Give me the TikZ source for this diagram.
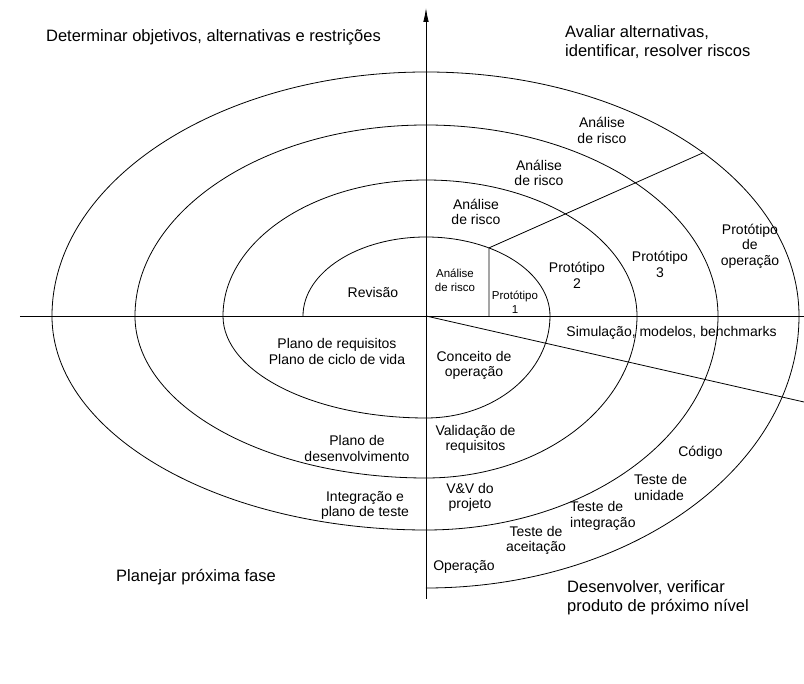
\documentclass[tikz,border=0pt]{standalone}
\usepackage{fontspec}
\setmainfont{Liberation Sans}
\usetikzlibrary{arrows.meta}

\begin{document}
\begin{tikzpicture}[x=1pt, y=1pt,
    linha/.style={black, line width=0.8pt},
    grande/.style={font=\fontsize{16.5}{19}\selectfont, inner sep=0pt, align=left},
    medio/.style={font=\fontsize{14}{15.5}\selectfont, inner sep=0pt, align=center},
    pequeno/.style={font=\fontsize{11.5}{14}\selectfont, inner sep=0pt, align=center}]
    \useasboundingbox (-426,-368) rectangle (378,316);

    % Eixos
    \coordinate (o) at (0,0);
    \draw[linha, -{Latex[length=14pt, width=5.5pt]}] (0,-283) -- (0,308);
    \draw[linha] (-406,0) -- (378,0);

    % Espiral
    \draw[linha] (-123,0)
        arc[start angle=180, end angle=90, x radius=123, y radius=79]
        arc[start angle=90, end angle=0, x radius=124, y radius=79]
        arc[start angle=0, end angle=-90, x radius=124, y radius=102]
        arc[start angle=270, end angle=180, x radius=203, y radius=102]
        arc[start angle=180, end angle=90, x radius=203, y radius=136]
        arc[start angle=90, end angle=0, x radius=211, y radius=136]
        arc[start angle=0, end angle=-90, x radius=211, y radius=162]
        arc[start angle=270, end angle=180, x radius=291, y radius=162]
        arc[start angle=180, end angle=90, x radius=291, y radius=191]
        arc[start angle=90, end angle=0, x radius=292, y radius=191]
        arc[start angle=0, end angle=-90, x radius=292, y radius=214]
        arc[start angle=270, end angle=180, x radius=374, y radius=214]
        arc[start angle=180, end angle=90, x radius=374, y radius=244]
        arc[start angle=90, end angle=0, x radius=373, y radius=244]
        arc[start angle=0, end angle=-90, x radius=373, y radius=272];

    % Linhas radiais
    \coordinate (p1) at (59.5:124 and 79);
    \coordinate (p2) at (42:373 and 244);
    \coordinate (fim) at (378,-86);
    \draw[linha] (p1 |- o) -- (p1) -- (p2);
    \draw[linha] (o) -- (fim);

    % Quadrantes
    \node[grande, align=center] (objetivos) at (-212.5,279) {Determinar objetivos, alternativas e restrições};
    \node[grande, anchor=west] (avaliar) at (139,273.5) {Avaliar alternativas,\\identificar, resolver riscos};
    \node[grande] (planejar) at (-230,-261) {Planejar próxima fase};
    \node[grande, anchor=west] (desenvolver) at (141,-282) {Desenvolver, verificar\\produto de próximo nível};

    % Análise de risco e protótipos
    \node[medio] (risco4) at (176,185.5) {Análise\\de risco};
    \node[medio] (risco3) at (113,143) {Análise\\de risco};
    \node[medio] (risco2) at (50,104) {Análise\\de risco};
    \node[pequeno] (risco1) at (29,36) {Análise\\de risco};
    \node[pequeno] (prot1) at (89,13.5) {Protótipo\\1};
    \node[medio] (prot2) at (151,40.5) {Protótipo\\2};
    \node[medio] (prot3) at (234,51.5) {Protótipo\\3};
    \node[medio] (protop) at (324,70) {Protótipo\\de\\operação};
    \node[medio] (revisao) at (-53,23) {Revisão};

    % Planos
    \node[medio] (planoreq) at (-89,-35.5) {Plano de requisitos\\Plano de ciclo de vida};
    \node[medio] (planodes) at (-69,-132.5) {Plano de\\desenvolvimento};
    \node[medio] (integ) at (-61,-189.5) {Integração e\\plano de teste};

    % Desenvolvimento
    \node[medio] (conceito) at (48,-49.5) {Conceito de\\operação};
    \node[medio] (simul) at (245.5,-17) {Simulação, modelos, benchmarks};
    \node[medio] (valid) at (49.5,-123.5) {Validação de\\requisitos};
    \node[medio] (vv) at (44,-181.5) {V\&V do\\projeto};
    \node[medio] (codigo) at (274.5,-137) {Código};
    \node[medio, anchor=west, align=left] (tunid) at (208,-171.5) {Teste de\\unidade};
    \node[medio, anchor=west, align=left] (tinteg) at (144,-200) {Teste de\\integração};
    \node[medio] (tacei) at (110,-224.5) {Teste de\\aceitação};
    \node[medio] (operacao) at (38,-251) {Operação};
\end{tikzpicture}
\end{document}
